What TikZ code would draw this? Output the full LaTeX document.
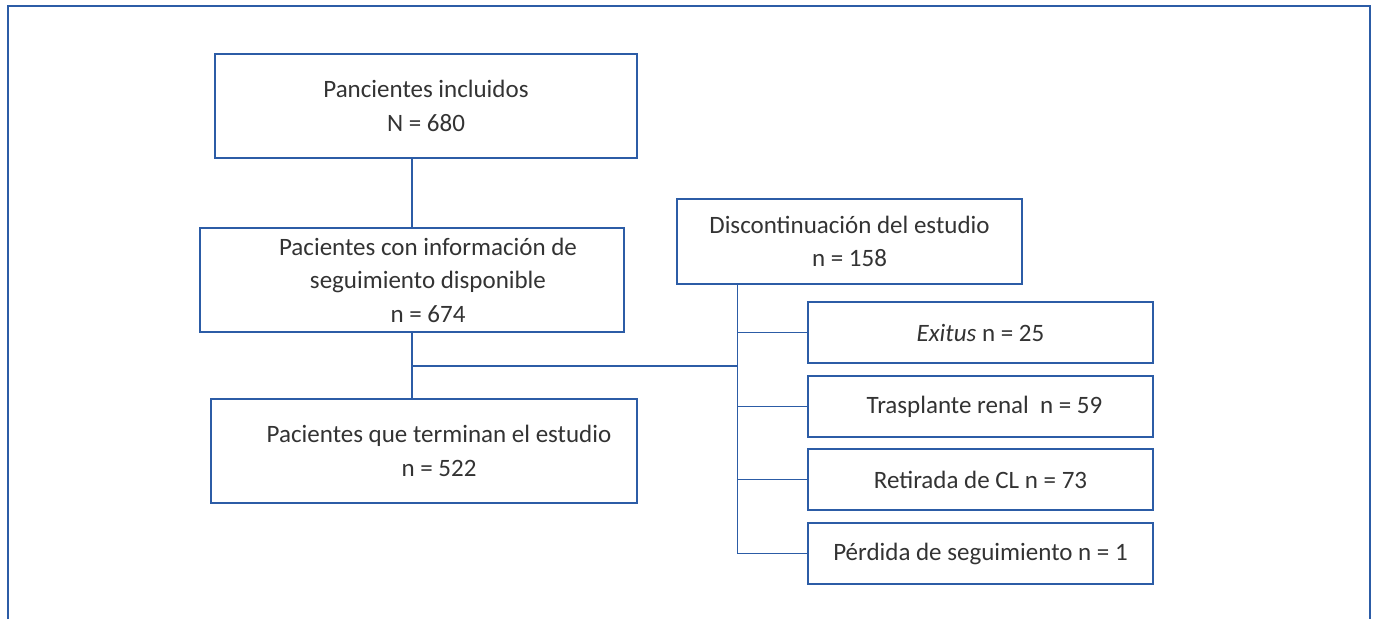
\documentclass[tikz,border=0pt]{standalone}
\usepackage{fontspec}
\setmainfont{Carlito}
\definecolor{lineblue}{RGB}{44,92,166}
\definecolor{txtgray}{RGB}{51,51,51}
\begin{document}
\begin{tikzpicture}[x=1pt,y=-1pt,
  box/.style={draw=lineblue,line width=1.5pt,rectangle,inner sep=0pt},
  bigbox/.style={box,minimum width=424pt,minimum height=104pt},
  discbox/.style={box,minimum width=345pt,minimum height=85pt},
  smallbox/.style={box,minimum width=345pt,minimum height=61pt},
  txt/.style={text=txtgray,font=\fontsize{25}{33.5}\selectfont,align=center},
  conn/.style={draw=lineblue,line width=1.5pt}]
\useasboundingbox (0,0) rectangle (1375,619);
\draw[conn] (8,619) -- (8,6) -- (1370,6) -- (1370,619);

\node[bigbox,minimum width=422pt,label={[txt]center:Pancientes incluidos\\N = 680}] (b1) at (426,106) {};
\node[bigbox,label={[txt,xshift=16pt]center:Pacientes con información de\\seguimiento disponible\\n = 674}] (b2) at (412,280) {};
\node[bigbox,minimum width=426pt,label={[txt,xshift=15pt]center:Pacientes que terminan el estudio\\n = 522}] (b3) at (424,451) {};
\node[discbox,txt] (b4) at (849.5,241.5) {Discontinuación del estudio\\n = 158};

\node[smallbox,txt] (e1) at (980.5,332.5) {\textit{Exitus} n = 25};
\node[smallbox,txt] (e2) at (980.5,406.5) {\hspace*{8pt}Trasplante renal\ \ n = 59};
\node[smallbox,txt] (e3) at (980.5,479.5) {Retirada de CL n = 73};
\node[smallbox,txt] (e4) at (980.5,553.5) {Pérdida de seguimiento n = 1};

\coordinate (trunk) at ([xshift=61pt]b4.south west);
\coordinate (split) at (b2.south |- 0,366);

\draw[conn] (b2.north) -- (b2.north |- b1.south);
\draw[conn] (b2.south) -- (b2.south |- b3.north);
\draw[conn] (split) -- (split -| trunk);
\draw[conn] (trunk) -- (trunk |- e4.west);
\foreach \e in {e1,e2,e3,e4}{
  \draw[conn] (trunk |- \e.west) -- (\e.west);
}
\end{tikzpicture}
\end{document}
